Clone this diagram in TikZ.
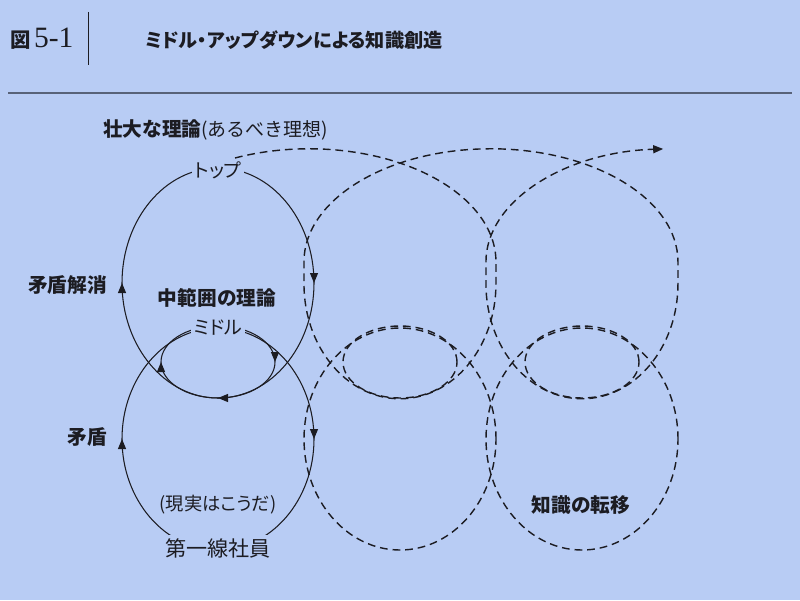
\documentclass[tikz,border=0pt]{standalone}
\usepackage{fontspec}
\setmainfont{Noto Sans CJK JP}
\newfontfamily\jpprop{Noto Sans CJK JP}[RawFeature=+palt]
\newfontfamily\serifnum{Liberation Serif}
\usetikzlibrary{arrows.meta,decorations.markings,positioning}
\definecolor{paper}{RGB}{184,204,244}
\definecolor{ink}{RGB}{28,28,34}
\definecolor{rulecol}{RGB}{88,98,120}
\tikzset{tri/.tip={Triangle[length=2.5mm,width=2mm]}}

\begin{document}
\begin{tikzpicture}[x=0.025cm, y=0.025cm,
    every node/.style={text=ink},
    tag/.style={fill=paper, inner sep=2pt},
    big/.style={font=\bfseries\fontsize{14}{16}\selectfont},
    small/.style={font=\jpprop\fontsize{13.5}{15}\selectfont},
    loop/.style={draw=ink, line width=0.75pt},
    coil/.style={draw=ink, line width=1pt, dash pattern=on 5.5pt off 3.5pt},
    twoarr/.style={postaction={decorate}, decoration={markings,
        mark=at position .25 with {\arrow{tri}},
        mark=at position .75 with {\arrow{tri}}}},
    threearr/.style={postaction={decorate}, decoration={markings,
        mark=at position .25 with {\arrow{tri}},
        mark=at position .5 with {\arrow{tri}},
        mark=at position .75 with {\arrow{tri}}}}]
    % background
    \fill[paper] (0,0) rectangle (800,600);
    \useasboundingbox (0,0) rectangle (800,600);
    % header
    \node[anchor=base west, font=\bfseries\fontsize{14.5}{16}\selectfont, inner sep=0pt] (fig) at (10,552) {図};
    \node[anchor=base west, font=\serifnum\fontsize{21}{23}\selectfont, inner sep=0pt] (fignum) at ([xshift=2pt]fig.base east) {5-1};
    \draw[ink, line width=0.6pt] (88,588) -- (88,535);
    \node[anchor=base west, font=\jpprop\bfseries\fontsize{13.6}{16}\selectfont, inner sep=0pt] (title) at (145,552) {ミドル・アップダウンによる知識創造};
    \draw[rulecol, line width=1.5pt] (8,507) -- (792,507);
    % solid loops
    \draw[loop, twoarr] (218,432) arc[start angle=90, end angle=-270, x radius=96, y radius=115];
    \draw[loop, threearr] (218,274) arc[start angle=90, end angle=-270, x radius=57, y radius=36];
    \draw[loop, twoarr] (218,272) arc[start angle=90, end angle=-270, x radius=96, y radius=111];
    % nodes
    \node[tag, big, anchor=west] (grand) at (100,470) {壮大な理論{\mdseries\fontsize{13.5}{15}\selectfont(あるべき理想)}};
    \node[tag, small] (top) at (218,430) {トップ};
    \node[tag, big, anchor=east] (resolve) at (110,315) {矛盾解消};
    \node[tag, big] (midtheory) at (217,302) {中範囲の理論};
    \node[tag, small] (middle) at (218,272) {ミドル};
    \node[tag, big, anchor=east] (contra) at (110,163) {矛盾};
    \node[tag, font=\jpprop\fontsize{13}{15}\selectfont] (reality) at (218,95) {(現実はこうだ)};
    \node[tag, font=\fontsize{15}{17}\selectfont] (front) at (218,52) {第一線社員};
    \node[tag, big] (transfer) at (581,95) {知識の転移};
    % dashed loops
    \foreach \dx in {182,364} {
        \draw[coil] (218+\dx,238) ellipse[x radius=57, y radius=36];
        \draw[coil] (218+\dx,161) ellipse[x radius=96, y radius=111];
    }
    \draw[coil, -{tri}] (235,442) arc[start angle=113.3, end angle=0, x radius=187, y radius=113]
        -- ++(0,-22) arc[start angle=0, end angle=-180, x radius=96, y radius=115]
        -- ++(0,22) arc[start angle=180, end angle=0, x radius=187, y radius=113]
        -- ++(0,-22) arc[start angle=0, end angle=-180, x radius=96, y radius=115]
        -- ++(0,22) arc[start angle=180, end angle=93, x radius=187, y radius=113];
\end{tikzpicture}
\end{document}
